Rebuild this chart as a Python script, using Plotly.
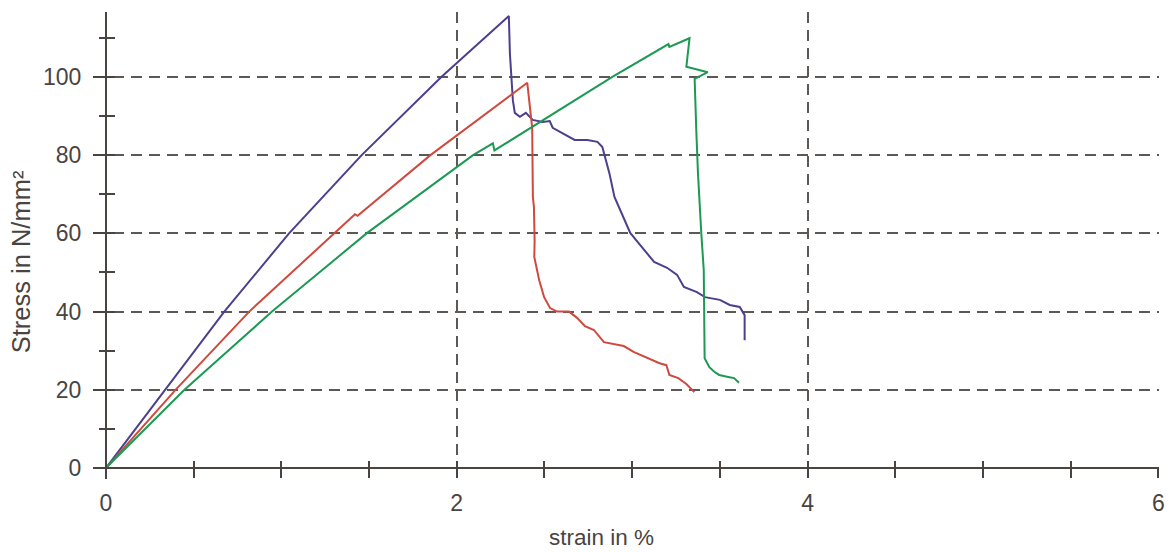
import plotly.graph_objects as go

# ---- data (strain in %, stress in N/mm²) ----
blue_strain = [0, 0.335, 0.675, 1.044, 1.458, 1.912, 2.297, 2.303, 2.320, 2.331, 2.360, 2.394, 2.433,
               2.490, 2.530, 2.547, 2.587, 2.632, 2.672, 2.745, 2.802, 2.830, 2.847, 2.870, 2.899,
               2.932, 2.961, 2.989, 3.046, 3.069, 3.125, 3.199, 3.256, 3.295, 3.369, 3.415, 3.500,
               3.556, 3.613, 3.641, 3.641]
blue_stress = [0, 20, 40, 60, 80, 100, 115.6, 106, 94, 90.8, 89.8, 90.8, 89,
               88.5, 88.7, 87, 86, 84.7, 83.9, 83.9, 83.4, 82.1, 79.5, 75.4, 69.3,
               66, 62.7, 60.1, 57.0, 55.8, 52.7, 51.2, 49.4, 46.3, 45, 43.7, 43,
               41.7, 41.2, 39.1, 32.7]

red_strain = [0, 0.397, 0.817, 1.299, 1.42, 1.435, 1.85, 2.402, 2.419, 2.430, 2.434, 2.440, 2.444,
              2.442, 2.470, 2.498, 2.532, 2.572, 2.640, 2.686, 2.731, 2.782, 2.839, 2.895, 2.952,
              3.008, 3.071, 3.156, 3.195, 3.212, 3.263, 3.309, 3.354]
red_stress = [0, 20, 40, 60, 64.9, 64.5, 80, 98.5, 91.5, 87, 69.3, 66.8, 58,
              54, 48, 43.7, 40.9, 40, 40, 38.4, 36.3, 35.3, 32.2, 31.7, 31.2,
              29.7, 28.4, 26.8, 26.3, 23.8, 23, 21.5, 19.4]

green_strain = [0, 0.448, 0.947, 1.486, 2.093, 2.206, 2.215, 2.887, 3.207, 3.212, 3.327, 3.309,
                3.431, 3.356, 3.366, 3.375, 3.394, 3.408, 3.413, 3.440, 3.468, 3.496, 3.547,
                3.581, 3.609]
green_stress = [0, 20, 40, 60, 80, 83.0, 81.2, 100, 108.4, 107.7, 109.9, 102.6,
                101.2, 99.5, 85.7, 75.4, 60, 50.6, 28.1, 25.8, 24.6, 23.8, 23.3,
                23, 21.8]

x_tick_labels = ["0", "2", "4", "6"]
y_tick_labels = ["0", "20", "40", "60", "80", "100"]

# ---- style ----
AX = "#4a4440"
GRID = "#5e5854"
FONT = "Liberation Sans, Arial, sans-serif"
X_RANGE = [-0.062, 6.003]
Y_RANGE = [-2.8, 116.6]
x_pos = (0 - Y_RANGE[0]) / (Y_RANGE[1] - Y_RANGE[0])
y_pos = (0 - X_RANGE[0]) / (X_RANGE[1] - X_RANGE[0])

fig = go.Figure()
for xs, ys, col in [(blue_strain, blue_stress, "#4b3f8e"),
                    (red_strain, red_stress, "#cf4a3e"),
                    (green_strain, green_stress, "#1d9954")]:
    fig.add_trace(go.Scatter(x=xs, y=ys, mode="lines",
                             line=dict(color=col, width=2), showlegend=False,
                             hoverinfo="skip"))
# empty trace to create the overlay axes (inside tick marks)
fig.add_trace(go.Scatter(x=[], y=[], xaxis="x2", yaxis="y2", showlegend=False))

fig.update_layout(
    width=1175, height=552,
    margin=dict(l=95, r=10, t=12, b=73),
    paper_bgcolor="white", plot_bgcolor="white",
    font=dict(family=FONT, size=22, color=AX),
    xaxis=dict(range=X_RANGE, domain=[0, 1], anchor="free", position=x_pos,
               showline=True, linecolor=AX, linewidth=2, zeroline=False,
               tickmode="array", tickvals=[0, 2, 4, 6], ticktext=x_tick_labels,
               ticks="outside", ticklen=9, tickwidth=1.5, tickcolor=AX,
               minor=dict(ticks="outside", ticklen=9, tickwidth=1.5, tickcolor=AX,
                          dtick=0.5, tick0=0, showgrid=False),
               showgrid=True, gridcolor=GRID, gridwidth=1.7, griddash="11px,7px",
               tickfont=dict(size=23, color=AX), ticklabelstandoff=5),
    xaxis2=dict(range=X_RANGE, domain=[0, 1], overlaying="x", anchor="free",
                position=x_pos, showline=False, zeroline=False, showgrid=False,
                tickmode="linear", tick0=0, dtick=0.5, ticks="inside", ticklen=7,
                tickwidth=1.5, tickcolor=AX, showticklabels=False),
    yaxis=dict(range=Y_RANGE, domain=[0, 1], anchor="free", position=y_pos,
               showline=True, linecolor=AX, linewidth=2, zeroline=False,
               tickmode="array", tickvals=[0, 20, 40, 60, 80, 100], ticktext=y_tick_labels,
               ticks="outside", ticklen=12, tickwidth=1.5, tickcolor=AX,
               minor=dict(ticks="outside", ticklen=6, tickwidth=1.5, tickcolor=AX,
                          dtick=10, tick0=0, showgrid=False),
               showgrid=True, gridcolor=GRID, gridwidth=1.7, griddash="11px,7px",
               tickfont=dict(size=23, color=AX), ticklabelstandoff=7),
    yaxis2=dict(range=Y_RANGE, domain=[0, 1], overlaying="y", anchor="free",
                position=y_pos, showline=False, zeroline=False, showgrid=False,
                tickmode="linear", tick0=0, dtick=10, ticks="inside", ticklen=8,
                tickwidth=1.5, tickcolor=AX, showticklabels=False),
    annotations=[
        dict(text="strain in %", x=0.4757, y=-0.1242, xref="paper", yref="paper",
             showarrow=False, font=dict(size=22.5, color=AX),
             xanchor="center", yanchor="middle"),
        dict(text="Stress in N/mm²", x=-0.0692, y=0.4647, xref="paper", yref="paper",
             showarrow=False, textangle=-90, font=dict(size=25.5, color=AX),
             xanchor="center", yanchor="middle"),
    ],
)

fig.write_html("out.html")
